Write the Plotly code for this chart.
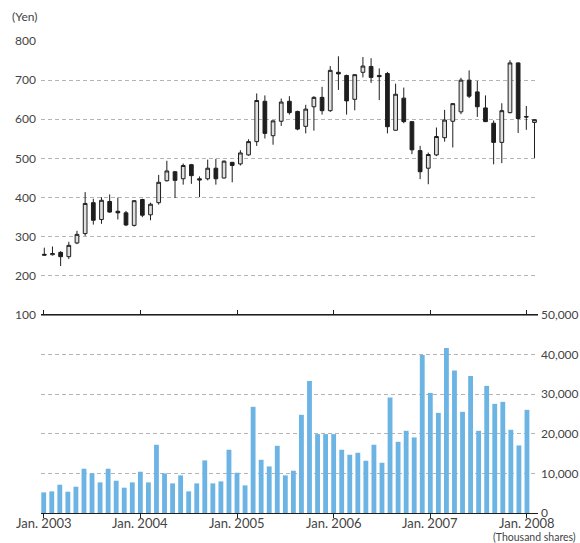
import plotly.graph_objects as go
import pandas as pd

# ---- data (monthly, Jan 2003 – Jan 2008) ----
months = pd.date_range("2003-01-01", periods=61, freq="MS").strftime("%Y-%m").tolist()

open_ = [255, 254, 260, 249, 284, 308, 387, 344, 390, 365,
         361, 329, 395, 356, 387, 443, 466, 448, 484, 448,
         448, 475, 450, 490, 486, 509, 543, 646, 558, 595,
         646, 620, 582, 632, 656, 622, 720, 712, 651, 720,
         735, 712, 717, 572, 654, 594, 520, 475, 509, 553,
         595, 619, 700, 670, 629, 590, 541, 617, 744, 607, 592]
high = [272, 275, 263, 287, 315, 414, 397, 401, 408, 400,
        366, 393, 397, 387, 458, 494, 468, 487, 486, 454,
        497, 499, 495, 491, 521, 549, 666, 661, 597, 653,
        659, 622, 637, 659, 683, 736, 761, 714, 715, 759,
        756, 730, 721, 691, 681, 595, 532, 515, 579, 624,
        641, 706, 725, 698, 661, 597, 641, 751, 745, 634, 600]
low = [252, 252, 225, 243, 281, 302, 331, 333, 361, 344,
       327, 326, 350, 342, 382, 441, 399, 433, 435, 401,
       444, 433, 449, 439, 482, 507, 532, 551, 535, 583,
       612, 572, 564, 571, 612, 619, 675, 612, 623, 707,
       693, 649, 564, 571, 590, 511, 447, 434, 506, 543,
       528, 613, 654, 606, 593, 485, 488, 615, 565, 573, 501]
close = [253, 257, 249, 278, 306, 385, 342, 393, 363, 361,
         330, 392, 355, 383, 439, 468, 444, 482, 456, 445,
         475, 448, 493, 482, 514, 543, 648, 564, 596, 644,
         617, 575, 626, 656, 622, 725, 716, 647, 714, 736,
         707, 709, 581, 664, 594, 522, 466, 510, 556, 598,
         640, 700, 659, 632, 594, 541, 622, 744, 602, 606, 599]

volume = [5210, 5460, 7140, 5380, 6640, 11180, 10000, 7730, 11180, 8150,
          6390, 7730, 10420, 7730, 17230, 10000, 7480, 9500, 5460, 7480,
          13280, 7480, 7980, 15970, 10170, 6970, 26810, 13440, 11760, 16970,
          9500, 10670, 24790, 33360, 19920, 19920, 19920, 15970, 14710, 15210,
          13190, 17230, 12690, 29160, 17980, 20760, 19080, 39910, 30330, 25290,
          41680, 35970, 25550, 34620, 20760, 32100, 27560, 28070, 21010, 17060, 26050]

price_ticks = [100, 200, 300, 400, 500, 600, 700, 800]
volume_ticks = [0, 10000, 20000, 30000, 40000, 50000]
year_ticks = ["2003-01", "2004-01", "2005-01", "2006-01", "2007-01", "2008-01"]
year_labels = ["Jan. 2003", "Jan. 2004", "Jan. 2005", "Jan. 2006", "Jan. 2007", "Jan. 2008"]

x = list(range(len(months)))
tick_idx = [months.index(m) for m in year_ticks]

INK = "#1e1e1e"
GRID = "#b4b4b4"
TEXT = "#444444"

fig = go.Figure()
fig.add_trace(go.Candlestick(
    x=x, open=open_, high=high, low=low, close=close,
    xaxis="x", yaxis="y",
    increasing=dict(line=dict(color=INK, width=1), fillcolor="#e0e0e0"),
    decreasing=dict(line=dict(color=INK, width=1), fillcolor=INK),
    whiskerwidth=0, showlegend=False, hoverinfo="skip",
))
fig.add_trace(go.Bar(
    x=x, y=volume, xaxis="x2", yaxis="y2",
    marker=dict(color="#6cb4e4", line=dict(width=0)),
    width=0.6, showlegend=False, hoverinfo="skip",
))

split = (513 - 315) / 472

annotations = [
    dict(text="(Yen)", xref="paper", yref="paper", x=-0.062, y=1.051,
         xanchor="left", yanchor="middle", showarrow=False,
         font=dict(size=12, color=TEXT)),
    dict(text="(Thousand shares)", xref="paper", yref="paper", x=1.08, y=-0.05,
         xanchor="right", yanchor="middle", showarrow=False,
         font=dict(size=10.5, color=TEXT)),
]
for ti, lab in zip(tick_idx, year_labels):
    annotations.append(dict(text=lab, xref="x2", yref="paper", x=ti, y=0,
                            yshift=-10, xanchor="center", yanchor="middle",
                            showarrow=False, font=dict(size=13, color=TEXT)))

fig.update_layout(
    width=580, height=543,
    margin=dict(l=41, r=42, t=41, b=30, autoexpand=False),
    paper_bgcolor="white", plot_bgcolor="white",
    font=dict(family="Lato, sans-serif", size=12, color=TEXT),
    showlegend=False,
    boxgap=0.35,
    xaxis=dict(
        domain=[0, 1], anchor="y", range=[-0.404, 60.43], automargin=False,
        showline=True, linecolor="#808080", linewidth=1,
        showgrid=False, zeroline=False, showticklabels=False, ticks="",
        rangeslider=dict(visible=False),
    ),
    yaxis=dict(
        domain=[split, 1], anchor="x", range=[100, 800], automargin=False,
        tickvals=price_ticks, showgrid=True, gridcolor=GRID, gridwidth=1,
        griddash="4px,3px", zeroline=False, ticks="", showline=False,
        ticklabelstandoff=4,
    ),
    xaxis2=dict(
        domain=[0, 1], anchor="y2", range=[-0.335, 61.37], automargin=False,
        showline=True, linecolor=INK, linewidth=1, mirror="ticks",
        ticks="outside", ticklen=4, tickcolor=INK, tickwidth=1,
        tickvals=tick_idx, showticklabels=False,
        showgrid=False, zeroline=False,
    ),
    yaxis2=dict(
        domain=[0, split], anchor="x2", side="right", range=[0, 50000],
        automargin=False,
        tickvals=volume_ticks, tickformat=",d",
        showgrid=True, gridcolor=GRID, gridwidth=1, griddash="4px,3px",
        zeroline=False, ticks="", showline=False, ticklabelstandoff=2,
    ),
    annotations=annotations,
)

# remove the browser's default 8px body margin so the 580x543 figure fills the window
fig.write_html(
    "out.html",
    config={"displayModeBar": False},
    post_script="document.body.style.margin='0px';document.body.style.overflow='hidden';",
)
